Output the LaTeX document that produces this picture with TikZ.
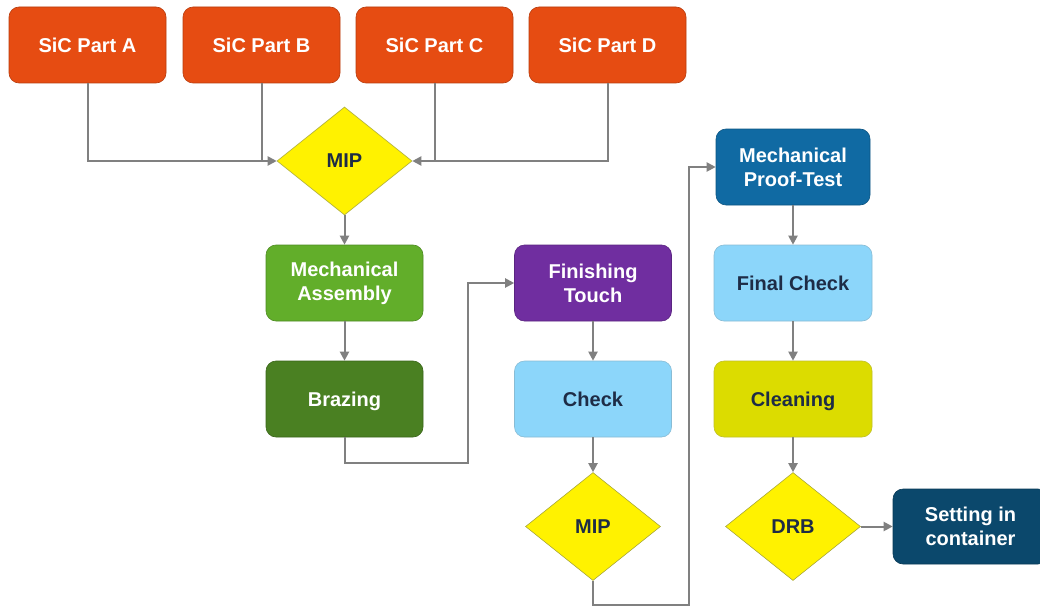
\documentclass[tikz,border=0pt]{standalone}
\usepackage{fontspec}
\setmainfont{Liberation Sans}
\usetikzlibrary{shapes.geometric,arrows.meta}
\definecolor{sicorange}{RGB}{230,76,18}
\definecolor{mgreen}{RGB}{98,174,42}
\definecolor{dgreen}{RGB}{74,128,34}
\definecolor{fpurple}{RGB}{112,46,160}
\definecolor{lblue}{RGB}{140,214,250}
\definecolor{pblue}{RGB}{16,106,163}
\definecolor{olivey}{RGB}{220,220,0}
\definecolor{sblue}{RGB}{11,72,108}
\definecolor{darktxt}{RGB}{30,44,70}
\definecolor{conn}{RGB}{128,128,128}
\tikzset{
  box/.style={rectangle, rounded corners=10pt, minimum width=157pt, minimum height=76pt,
    inner sep=2pt, align=center, font=\fontsize{20}{24}\selectfont\bfseries, line width=0.6pt},
  whitebox/.style={box, text=white},
  darkbox/.style={box, text=darktxt},
  nodepth/.style={text depth=0pt},
  dia/.style={diamond, minimum width=135pt, minimum height=108pt, inner sep=0pt,
    fill=yellow, draw={rgb,255:red,170;green,170;blue,60}, line width=0.6pt, text=darktxt,
    font=\fontsize{20}{24}\selectfont\bfseries},
  conline/.style={draw=conn, line width=2pt},
  arr/.style={conline, -{Triangle[length=9pt,width=9pt]}},
}
\begin{document}
\begin{tikzpicture}[x=1pt,y=-1pt]
\clip (0,0) rectangle (1040,607);
\fill[white] (0,0) rectangle (1040,607);
% top row
\node[whitebox, fill=sicorange, draw=sicorange!80!black] (sa) at (87.5,45) {SiC Part A};
\node[whitebox, fill=sicorange, draw=sicorange!80!black] (sb) at (261.5,45) {SiC Part B};
\node[whitebox, fill=sicorange, draw=sicorange!80!black] (sc) at (434.5,45) {SiC Part C};
\node[whitebox, fill=sicorange, draw=sicorange!80!black] (sd) at (607.5,45) {SiC Part D};
\node[dia] (mip) at (344.5,161) {MIP};
% column 2
\node[whitebox, fill=mgreen, draw=mgreen!80!black] (ma) at (344.5,283) {Mechanical\\Assembly};
\node[whitebox, nodepth, fill=dgreen, draw=dgreen!80!black] (br) at (344.5,399) {Brazing};
% column 3
\node[whitebox, fill=fpurple, draw=fpurple!80!black] (ft) at (593,283) {Finishing\\Touch};
\node[darkbox, fill=lblue, draw=lblue!70!gray] (ck) at (593,399) {Check};
\node[dia] (mip2) at (593,526.5) {MIP};
% column 4
\node[whitebox, fill=pblue, draw=pblue!80!black, minimum width=154pt] (mpt) at (793,167) {Mechanical\\Proof-Test};
\node[darkbox, fill=lblue, draw=lblue!70!gray, minimum width=158pt] (fc) at (793,283) {Final Check};
\node[darkbox, nodepth, fill=olivey, draw=olivey!70!gray, minimum width=158pt] (cl) at (793,399) {Cleaning};
\node[dia] (drb) at (793,526.5) {DRB};
\node[whitebox, fill=sblue, draw=sblue!80!black, minimum width=155pt, minimum height=75pt] (set) at (970.5,526.5) {Setting in\\container};
% connectors
\draw[arr] (sa.south) |- (mip.west);
\draw[conline] (sb.south) -- (sb.south |- mip.west);
\draw[arr] (sd.south) |- (mip.east);
\draw[conline] (sc.south) -- (sc.south |- mip.east);
\draw[arr] (mip.south) -- (ma.north);
\draw[arr] (ma.south) -- (br.north);
\coordinate (j1) at (468,463);
\draw[arr] (br.south) |- (j1) |- (ft.west);
\draw[arr] (ft.south) -- (ck.north);
\draw[arr] (ck.south) -- (mip2.north);
\coordinate (j2) at (689,605);
\draw[arr] (mip2.south) |- (j2) |- (mpt.west);
\draw[arr] (mpt.south) -- (fc.north);
\draw[arr] (fc.south) -- (cl.north);
\draw[arr] (cl.south) -- (drb.north);
\draw[arr] (drb.east) -- (set.west);
\end{tikzpicture}
\end{document}
